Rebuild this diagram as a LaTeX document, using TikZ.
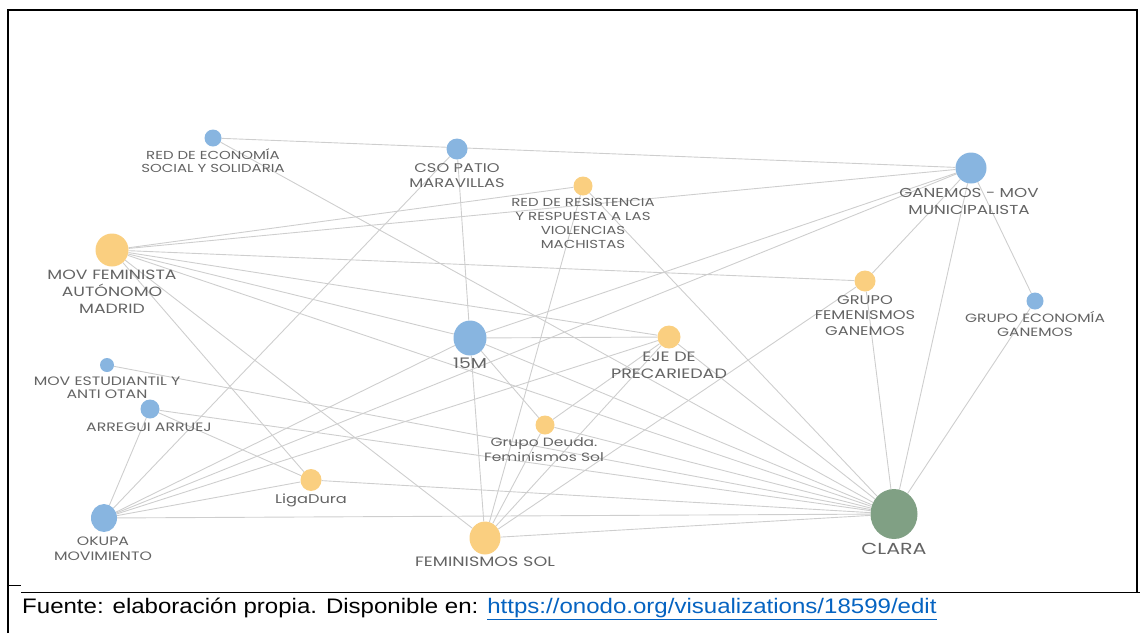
\documentclass[tikz,border=0pt]{standalone}
\usepackage{fontspec}
\usetikzlibrary{shapes.geometric}
\newfontfamily\lbl[FakeStretch=1.29]{Poppins}
\newfontfamily\foot[FakeStretch=1.145]{Liberation Sans}
\newcommand\fsz[2]{\fontsize{#1}{#2}\selectfont}
\definecolor{nblue}{RGB}{136,181,224}
\definecolor{nyel}{RGB}{250,207,128}
\definecolor{ngreen}{RGB}{128,160,132}
\definecolor{edgegray}{RGB}{206,206,206}
\definecolor{labgray}{RGB}{100,100,100}
\definecolor{linkblue}{RGB}{5,99,193}
\pgfdeclarelayer{bg}
\pgfsetlayers{bg,main}
\begin{document}
\begin{tikzpicture}[x=1pt,y=-1pt,
  dot/.style={circle,inner sep=0,draw=none},
  bl/.style={dot,fill=nblue},
  yl/.style={dot,fill=nyel},
  lab/.style={text=labgray,align=center,inner sep=0},
  edge/.style={draw=edgegray,line width=0.9pt}]
\useasboundingbox (0,0) rectangle (1140,633);
% nodes
\node[bl,minimum size=17] (ress) at (213,138) {};
\node[bl,minimum size=21] (cso) at (457,149) {};
\node[yl,minimum size=19] (rrvm) at (583,186) {};
\node[bl,minimum size=31] (gan) at (971,168) {};
\node[yl,minimum size=33] (mfam) at (112,250) {};
\node[yl,minimum size=21] (gfg) at (865,281) {};
\node[bl,minimum size=17] (geg) at (1035,301) {};
\node[bl,ellipse,minimum width=33,minimum height=35] (m15) at (470,338) {};
\node[yl,minimum size=23] (eje) at (669,337) {};
\node[bl,minimum size=14] (mest) at (107,365) {};
\node[bl,minimum size=19] (arr) at (150,409) {};
\node[yl,minimum size=19] (gd) at (545,425) {};
\node[yl,ellipse,minimum width=21,minimum height=22] (liga) at (311,480) {};
\node[bl,ellipse,minimum width=26,minimum height=28] (oku) at (104,518) {};
\node[yl,ellipse,minimum width=31,minimum height=33] (fs) at (485,538) {};
\node[dot,ellipse,fill=ngreen,minimum width=47,minimum height=50] (clara) at (894,514) {};
% edges
\begin{pgfonlayer}{bg}
\foreach \a/\b in {ress/gan,ress/clara,cso/oku,cso/m15,rrvm/mfam,rrvm/fs,rrvm/clara,
  mfam/gan,gan/m15,gan/oku,gan/gfg,gan/clara,gan/geg,mfam/gfg,gfg/fs,gfg/clara,geg/clara,
  mfam/eje,mfam/m15,mfam/clara,mfam/fs,mfam/liga,m15/eje,m15/fs,m15/gd,m15/clara,m15/oku,
  gd/eje,gd/fs,gd/clara,eje/clara,eje/fs,eje/oku,mest/clara,arr/oku,arr/clara,arr/liga,
  liga/oku,liga/clara,oku/clara,fs/clara}
  \draw[edge] (\a) -- (\b);
\end{pgfonlayer}
% labels
\node[lab,font=\lbl\fsz{11.6}{13}] (l-ress) at (213,160.5) {RED DE ECONOMÍA\\SOCIAL Y SOLIDARIA};
\node[lab,font=\lbl\fsz{12.6}{15}] (l-cso) at (457,175.5) {CSO PATIO\\MARAVILLAS};
\node[lab,font=\lbl\fsz{11.6}{14}] (l-rrvm) at (583,223) {RED DE RESISTENCIA\\Y RESPUESTA A LAS\\VIOLENCIAS\\MACHISTAS};
\node[lab,font=\lbl\fsz{13}{17}] (l-gan) at (969,201.5) {GANEMOS - MOV\\MUNICIPALISTA};
\node[lab,font=\lbl\fsz{13.4}{17}] (l-mfam) at (112,292) {MOV FEMINISTA\\AUTÓNOMO\\MADRID};
\node[lab,font=\lbl\fsz{12.6}{15.5}] (l-gfg) at (865,315.5) {GRUPO\\FEMENISMOS\\GANEMOS};
\node[lab,font=\lbl\fsz{12}{14}] (l-geg) at (1035,324) {GRUPO ECONOMÍA\\GANEMOS};
\node[lab,font=\lbl\fsz{14.5}{17}] (l-m15) at (470,363) {15M};
\node[lab,font=\lbl\fsz{13.6}{17}] (l-eje) at (669,365.5) {EJE DE\\PRECARIEDAD};
\node[lab,font=\lbl\fsz{12.2}{13}] (l-mest) at (107,387.5) {MOV ESTUDIANTIL Y\\ANTI OTAN};
\node[lab,font=\lbl\fsz{12.2}{14}] (l-arr) at (149,427) {ARREGUI ARRUEJ};
\node[lab,font=\lbl\fsz{12}{15}] (l-gd) at (544,449.5) {Grupo Deuda.\\Feminismos Sol};
\node[lab,font=\lbl\fsz{12.6}{15}] (l-liga) at (311,500) {LigaDura};
\node[lab,font=\lbl\fsz{12.2}{15}] (l-oku) at (103,548.5) {OKUPA\\MOVIMIENTO};
\node[lab,font=\lbl\fsz{13.6}{16}] (l-fs) at (485,562) {FEMINISMOS SOL};
\node[lab,font=\lbl\fsz{16}{18}] (l-clara) at (894,549) {CLARA};
% frame
\draw[line width=1.6pt] (8,633) -- (8,10) -- (1137,10) -- (1137,592);
\draw[line width=1pt] (8,585) -- (21,585);
\draw[line width=1pt] (21,592) -- (1140,592);
% footer
\node[font=\foot\fsz{21}{24},anchor=base west,inner sep=0] (foot) at (22,613)
  {Fuente: elaboración propia. Disponible en: \textcolor{linkblue}{\underline{https://onodo.org/visualizations/18599/edit}}};
\end{tikzpicture}
\end{document}
